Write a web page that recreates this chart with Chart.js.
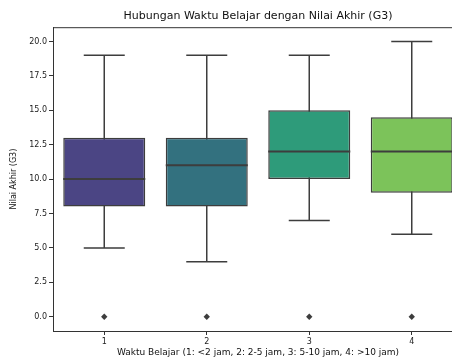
<!DOCTYPE html>
<html>
<head>
<meta charset="utf-8">
<script src="https://cdn.jsdelivr.net/npm/chart.js@4"></script>
<style>
  body { margin: 0; overflow: hidden; background: #fff; }
  #wrap { width: 480px; height: 360px; }
</style>
</head>
<body>
<div id="wrap"><canvas id="boxChart"></canvas></div>
<script>
// ===== Data =====
const categories = ['1', '2', '3', '4'];
const whiskerLow = [5, 4, 7, 6];
const q1 = [8, 8, 10, 9];
const median = [10, 11, 12, 12];
const q3 = [13, 13, 15, 14.5];
const whiskerHigh = [19, 19, 19, 20];
const outliers = [0, 0, 0, 0];
const yTicks = [0, 2.5, 5, 7.5, 10, 12.5, 15, 17.5, 20];

const boxColors = ['#4b4584', '#33717f', '#2e9b7a', '#7cc35a'];
const lineColor = '#3d3d3d';
const fontFamily = '"DejaVu Sans", sans-serif';

// whiskers + caps behind the boxes, medians on top
const boxPlotLines = {
  id: 'boxPlotLines',
  beforeDatasetsDraw(chart) {
    const ctx = chart.ctx;
    const meta = chart.getDatasetMeta(0);
    const y = chart.scales.y;
    ctx.save();
    ctx.strokeStyle = lineColor;
    ctx.lineWidth = 1.5;
    meta.data.forEach((bar, i) => {
      const x = bar.x;
      const capHalf = bar.width / 4;
      const lo = y.getPixelForValue(whiskerLow[i]);
      const hi = y.getPixelForValue(whiskerHigh[i]);
      ctx.beginPath();
      ctx.moveTo(x, lo); ctx.lineTo(x, hi);
      ctx.moveTo(x - capHalf, lo); ctx.lineTo(x + capHalf, lo);
      ctx.moveTo(x - capHalf, hi); ctx.lineTo(x + capHalf, hi);
      ctx.stroke();
    });
    ctx.restore();
  },
  afterDatasetsDraw(chart) {
    const ctx = chart.ctx;
    const meta = chart.getDatasetMeta(0);
    const y = chart.scales.y;
    const area = chart.chartArea;
    ctx.save();
    ctx.strokeStyle = lineColor;
    ctx.lineWidth = 2;
    meta.data.forEach((bar, i) => {
      const half = bar.width / 2;
      const m = y.getPixelForValue(median[i]);
      ctx.beginPath();
      ctx.moveTo(bar.x - half, m); ctx.lineTo(bar.x + half, m);
      ctx.stroke();
    });
    // top spine like matplotlib
    ctx.strokeStyle = '#333';
    ctx.lineWidth = 1;
    ctx.beginPath();
    ctx.moveTo(area.left, area.top + 0.5);
    ctx.lineTo(area.right, area.top + 0.5);
    ctx.stroke();
    ctx.restore();
  }
};

const ctx = document.getElementById('boxChart').getContext('2d');
new Chart(ctx, {
  type: 'bar',
  data: {
    labels: categories,
    datasets: [{
      label: 'IQR',
      data: categories.map((c, i) => [q1[i], q3[i]]),
      backgroundColor: boxColors,
      borderColor: lineColor,
      borderWidth: 1.5,
      borderSkipped: false,
      barPercentage: 0.8,
      categoryPercentage: 1.0
    }, {
      type: 'line',
      label: 'Outlier',
      data: outliers,
      showLine: false,
      pointStyle: 'rectRot',
      pointRadius: 3.2,
      pointBackgroundColor: lineColor,
      pointBorderColor: lineColor,
      pointBorderWidth: 0
    }]
  },
  options: {
    responsive: true,
    maintainAspectRatio: false,
    animation: false,
    layout: { padding: { left: 0, right: 17, top: 0, bottom: 0 } },
    plugins: {
      legend: { display: false },
      tooltip: { enabled: false },
      title: {
        display: true,
        fullSize: false, // center over the plot area, like matplotlib
        text: 'Hubungan Waktu Belajar dengan Nilai Akhir (G3)',
        color: '#111',
        font: { family: fontFamily, size: 11, weight: 'normal' },
        padding: { top: 10, bottom: 4 }
      }
    },
    scales: {
      x: {
        offset: true,
        grid: { offset: false, drawOnChartArea: false, drawTicks: true, tickLength: 4, color: '#333' },
        border: { display: true, color: '#333', width: 1 },
        ticks: { color: '#222', font: { family: fontFamily, size: 8 }, padding: 2 },
        title: {
          display: true,
          text: 'Waktu Belajar (1: <2 jam, 2: 2-5 jam, 3: 5-10 jam, 4: >10 jam)',
          color: '#111',
          font: { family: fontFamily, size: 9 },
          padding: { top: 0, bottom: 2 }
        },
        afterFit(scale) { scale.height = 29; }
      },
      y: {
        min: -1.04,
        max: 21.04,
        grid: { drawOnChartArea: false, drawTicks: true, tickLength: 4, color: '#333' },
        border: { display: true, color: '#333', width: 1 },
        ticks: {
          color: '#222',
          font: { family: fontFamily, size: 8 },
          padding: 2,
          callback: v => Number(v).toFixed(1)
        },
        afterBuildTicks(scale) { scale.ticks = yTicks.map(v => ({ value: v })); },
        title: {
          display: true,
          text: 'Nilai Akhir (G3)',
          color: '#111',
          font: { family: fontFamily, size: 8 },
          padding: { top: 9, bottom: 0 }
        },
        afterFit(scale) { scale.width = 53; }
      }
    }
  },
  plugins: [boxPlotLines]
});
</script>
</body>
</html>
